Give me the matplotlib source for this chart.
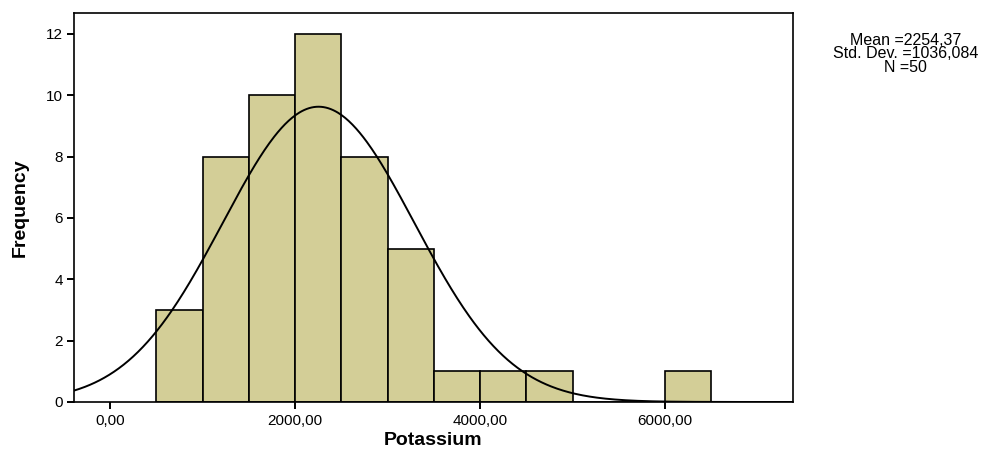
import matplotlib.pyplot as plt
import numpy as np

# histogram data (bin width 500)
bin_edges = [500, 1000, 1500, 2000, 2500, 3000, 3500, 4000, 4500, 5000, 5500, 6000, 6500]
counts = [3, 8, 10, 12, 8, 5, 1, 1, 1, 0, 0, 1]
mean = 2254.37
std = 1036.084
n = 50
x_ticks = [0, 2000, 4000, 6000]
x_ticklabels = ["0,00", "2000,00", "4000,00", "6000,00"]
y_ticks = [0, 2, 4, 6, 8, 10, 12]

plt.rcParams['font.family'] = ['Liberation Sans', 'DejaVu Sans']

fig = plt.figure(figsize=(10.06, 4.5), dpi=100)
ax = fig.add_axes([0.0736, 0.1067, 0.7147, 0.8643])

widths = np.diff(bin_edges)
ax.bar(bin_edges[:-1], counts, width=widths, align='edge',
       color='#d3ce97', edgecolor='black', linewidth=1.2, zorder=2)

# fitted normal curve
xs = np.linspace(-400, 7400, 600)
binw = widths[0]
ys = n * binw * np.exp(-0.5 * ((xs - mean) / std) ** 2) / (std * np.sqrt(2 * np.pi))
ax.plot(xs, ys, color='black', linewidth=1.4, zorder=3)

ax.set_xlim(-389, 7384)
ax.set_ylim(0, 12.68)
ax.set_xticks(x_ticks)
ax.set_xticklabels(x_ticklabels)
ax.set_yticks(y_ticks)
ax.tick_params(direction='out', length=5, width=1.4, labelsize=11, pad=3)
ax.tick_params(axis='x', pad=4)
for s in ax.spines.values():
    s.set_linewidth(1.2)

ax.set_xlabel("Potassium", fontsize=14, fontweight='bold')
ax.xaxis.set_label_coords(0.5, -0.1)
ax.xaxis.label.set_va('center')
ax.set_ylabel("Frequency", fontsize=14, fontweight='bold', fontstretch='condensed')
ax.yaxis.set_label_coords(-0.075, 0.5)
ax.yaxis.label.set_va('center')

mean_txt = f"{mean:.2f}".replace('.', ',')
std_txt = f"{std:.3f}".replace('.', ',')
fig.text(0.9, 0.88, f"Mean ={mean_txt}\nStd. Dev. ={std_txt}\nN ={n}",
         ha='center', va='center', fontsize=11.5, linespacing=0.9)

fig.savefig("out.png", dpi=100)
